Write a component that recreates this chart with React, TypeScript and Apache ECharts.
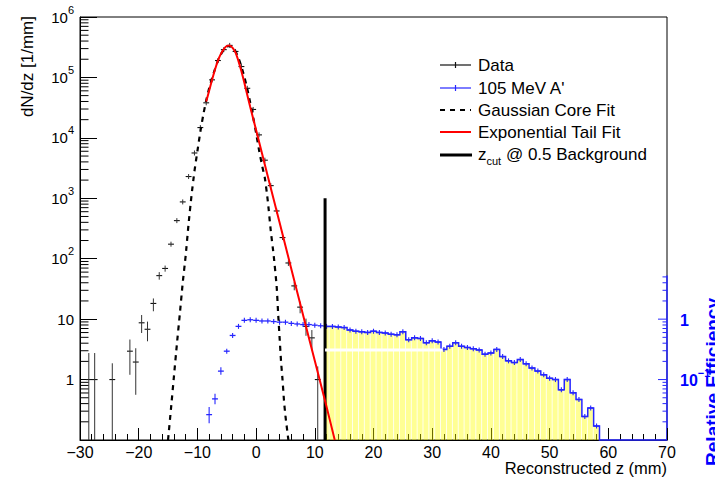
import React, { useEffect, useRef } from "react";
import * as echarts from "echarts";

const FONT = "'Liberation Sans', Arial, Helvetica, sans-serif";

// ---- Data histogram (black crosses) ----
const dataZ = [-28.5, -27.5, -24.5, -21.5, -20.5, -19.5, -18.5, -17.5, -16.5, -15.5,
  -14.5, -13.5, -12.5, -11.5, -10.5, -9.5, -8.5, -7.5, -6.5, -5.5,
  -4.5, -3.5, -2.5, -1.5, -0.5, 0.5, 1.5, 2.5, 3.5, 4.5,
  5.5, 6.5, 7.5, 8.5, 9.5, 10.5];
const dataVal = [1, 1, 1, 2.95, 1.95, 8.7, 6.8, 18.2, 52.5, 69,
  174, 427, 871, 2290, 5620, 14800, 38000, 91200, 190500, 288400,
  338800, 269200, 151400, 66100, 29500, 11200, 4270, 1620, 617, 224,
  85, 35.5, 15.8, 7.6, 4.9, 1];
const dataErrLo: (number | null)[] = [0, 0, 0, 1.2, 0.56, 5.9, 4.3, 13.5, 45, 61,
  161, null, null, null, null, null, null, null, null, null,
  null, null, null, null, null, null, null, null, null, null,
  76, 30, 12.5, 5.3, 3.1, 0];
const dataErrHi: (number | null)[] = [2.75, 2.75, 1.86, 4.6, 3.3, 11.7, 9.1, 22, 60, 77,
  188, null, null, null, null, null, null, null, null, null,
  null, null, null, null, null, null, null, null, null, null,
  94, 41, 19.5, 10.2, 6.6, 1.65];

// ---- Gaussian core fit (dashed) ----
const gaussZ = [-15, -14.5, -14, -13.5, -13, -12.5, -12, -11.5, -11, -10.5,
  -10, -9.5, -9, -8.5, -8, -7.5, -7, -6.5, -6, -5.5,
  -5, -4.5, -4, -3.5, -3, -2.5, -2, -1.5, -1, -0.5,
  0, 0.5, 1, 1.5, 2, 2.5, 3, 3.5, 3.75, 4, 4.25, 4.5, 4.75, 5, 5.5];
const gaussVal = [0.1, 0.33, 1.12, 3.8, 12, 40, 112, 380, 1120, 2820,
  6000, 12600, 24000, 41700, 66000, 98000, 138000, 190000, 240000, 288000,
  324000, 331000, 309000, 269000, 209000, 151000, 102000, 64600, 38000, 21900,
  12000, 6300, 3550, 2140, 890, 290, 112, 35, 12.6, 5.0, 2.0, 1.0, 0.45, 0.25, 0.1];

// ---- Exponential tail fit (red) ----
const tailZ = [-8.5, -8, -7.5, -7, -6.5, -6, -5.5, -5, -4.5, -4, -3.5, -3, -2.5, -2, -1.5, -1,
  0, 2, 4, 6, 8, 10, 12, 13.4];
const tailVal = [39800, 60300, 91200, 135000, 190000, 245000, 295000, 331000, 339000, 309000,
  257000, 186000, 126000, 81300, 51300, 32400, 13500, 2290, 398, 67.6, 11.7, 2.04, 0.355, 0.1];

// ---- 105 MeV A' signal (relative efficiency, right axis) ----
const sigZ = [-8, -7, -6, -5, -4, -3, -2, -1, 0, 1, 2, 3, 4, 5, 6, 7, 8, 9, 10, 11,
  12, 13, 14, 15, 16, 17, 18, 19, 20, 21, 22, 23, 24, 25, 26, 27, 28, 29, 30, 31,
  32, 33, 34, 35, 36, 37, 38, 39, 40, 41, 42, 43, 44, 45, 46, 47, 48, 49, 50, 51,
  52, 53, 54, 55, 56, 57, 58];
const sigEff = [0.0263, 0.0479, 0.138, 0.295, 0.537, 0.759, 0.955, 0.977, 0.955, 0.933,
  0.933, 0.912, 0.891, 0.891, 0.851, 0.832, 0.813, 0.813, 0.794, 0.776,
  0.759, 0.759, 0.741, 0.724, 0.661, 0.631, 0.617, 0.603, 0.631, 0.603,
  0.589, 0.562, 0.550, 0.617, 0.457, 0.490, 0.479, 0.407, 0.437, 0.417,
  0.316, 0.355, 0.407, 0.355, 0.339, 0.324, 0.309, 0.263, 0.275, 0.316,
  0.240, 0.204, 0.191, 0.214, 0.182, 0.155, 0.138, 0.120, 0.105, 0.100,
  0.0676, 0.100, 0.0603, 0.0468, 0.0245, 0.0339, 0.0170];
const sigErrLo = [0.019, 0.039, 0.12];
const sigErrHi = [0.035, 0.058, 0.16];

const zCut = 11.75;
const zCutTop = 1000;
const stripeRange = [11.75, 31.8];
const stripeLevel = 0.31;

const legendLabels = ["Data", "105 MeV A'", "Gaussian Core Fit", "Exponential Tail Fit", "z{sub|cut} @ 0.5 Background"];
const rightAxisLabels: Record<string, string> = { "-1": "10{sup|\u22121}", "0": "1" };

const X_MIN = -30, X_MAX = 70;
const Y_MIN = 0.1, Y_MAX = 1e6;
const R_MIN = 0.01, R_TOP = 5.45;
const BLUE = "#2626ff";

function buildOption(): any {
  const legendY = [65, 88, 110, 132, 155];
  const lx1 = 440, lx2 = 471, lxm = 455.5;
  const graphics: any[] = [];
  graphics.push({ type: "line", shape: { x1: lx1, y1: legendY[0], x2: lx2, y2: legendY[0] }, style: { stroke: "#111", lineWidth: 1.2 } });
  graphics.push({ type: "line", shape: { x1: lxm, y1: legendY[0] - 3, x2: lxm, y2: legendY[0] + 3 }, style: { stroke: "#111", lineWidth: 1.2 } });
  graphics.push({ type: "line", shape: { x1: lx1, y1: legendY[1], x2: lx2, y2: legendY[1] }, style: { stroke: BLUE, lineWidth: 1.2 } });
  graphics.push({ type: "line", shape: { x1: lxm, y1: legendY[1] - 3, x2: lxm, y2: legendY[1] + 3 }, style: { stroke: BLUE, lineWidth: 1.2 } });
  graphics.push({ type: "line", shape: { x1: lx1, y1: legendY[2], x2: lx2, y2: legendY[2] }, style: { stroke: "#000", lineWidth: 2, lineDash: [5, 5] } });
  graphics.push({ type: "line", shape: { x1: lx1, y1: legendY[3], x2: lx2, y2: legendY[3] }, style: { stroke: "#ff0000", lineWidth: 2 } });
  graphics.push({ type: "line", shape: { x1: lx1, y1: legendY[4], x2: lx2 + 1, y2: legendY[4] }, style: { stroke: "#000", lineWidth: 3 } });
  legendLabels.forEach((t, i) => {
    graphics.push({
      type: "text", x: 478, y: legendY[i] - (i === 4 ? 1 : 0),
      style: {
        text: t, fontFamily: FONT, fontSize: 17, fill: "#000", align: "left", verticalAlign: "middle",
        lineHeight: 24,
        rich: { sub: { fontSize: 11, fontFamily: FONT, fill: "#000", verticalAlign: "bottom", lineHeight: 12 } },
      },
    });
  });
  graphics.push({
    type: "text", x: 27, y: 16, rotation: Math.PI / 2,
    style: { text: "dN/dz [1/mm]", fontFamily: FONT, fontSize: 17, fill: "#000", align: "right", verticalAlign: "middle" },
  });
  graphics.push({
    type: "text", x: 667, y: 468,
    style: { text: "Reconstructed z (mm)", fontFamily: FONT, fontSize: 16.5, fill: "#000", align: "right", verticalAlign: "middle" },
  });
  graphics.push({
    type: "text", x: 703, y: 298, rotation: Math.PI / 2,
    style: { text: "Relative Efficiency", fontFamily: FONT, fontSize: 19, fontWeight: "bold", fill: "#0000ff", align: "right", verticalAlign: "top" },
  });

  const series: any[] = [];

  series.push({
    type: "line", xAxisIndex: 0, yAxisIndex: 0, data: [[zCut, Y_MIN], [zCut, zCutTop]],
    symbol: "none", lineStyle: { color: "#000", width: 3 }, silent: true,
  });

  series.push({
    type: "custom", xAxisIndex: 0, yAxisIndex: 0, silent: true,
    data: dataZ.map((z, i) => [z, dataVal[i], dataErrLo[i] ?? dataVal[i], dataErrHi[i] ?? dataVal[i]]),
    renderItem: (_p: any, api: any) => {
      const z = api.value(0), v = api.value(1), lo = api.value(2), hi = api.value(3);
      const c = api.coord([z, v]);
      const l = api.coord([z - 0.5, v]);
      const r = api.coord([z + 0.5, v]);
      const pLo = api.coord([z, Math.max(lo, Y_MIN)]);
      const pHi = api.coord([z, hi]);
      return {
        type: "group",
        children: [
          { type: "line", shape: { x1: l[0], y1: c[1], x2: r[0], y2: c[1] }, style: { stroke: "#111", lineWidth: 1.1 } },
          { type: "line", shape: { x1: c[0], y1: Math.min(pHi[1], c[1] - 2.5), x2: c[0], y2: Math.max(pLo[1], c[1] + 2.5) }, style: { stroke: "#333", lineWidth: 1 } },
        ],
      };
    },
  });

  series.push({
    type: "line", xAxisIndex: 0, yAxisIndex: 0, data: gaussZ.map((z, i) => [z, gaussVal[i]]),
    symbol: "none", smooth: 0.2, lineStyle: { color: "#000", width: 2.2, type: [5, 5] }, silent: true,
  });

  series.push({
    type: "line", xAxisIndex: 0, yAxisIndex: 0, data: tailZ.map((z, i) => [z, tailVal[i]]),
    symbol: "none", smooth: 0.2, lineStyle: { color: "#ff0000", width: 2 }, silent: true,
  });

  series.push({
    type: "custom", xAxisIndex: 0, yAxisIndex: 1, silent: true,
    data: sigZ.map((z, i) => [z, sigEff[i]]).filter((d) => d[0] + 0.5 > zCut),
    renderItem: (_p: any, api: any) => {
      const z = api.value(0), v = api.value(1);
      const x0 = api.coord([Math.max(z - 0.5, zCut), v])[0];
      const x1 = api.coord([z + 0.5, v])[0];
      const top = api.coord([z, v])[1];
      const bot = api.coord([z, R_MIN])[1];
      return { type: "rect", shape: { x: x0, y: top, width: Math.max(x1 - x0 - 0.8, 0.5), height: bot - top }, style: { fill: "rgba(255,255,0,0.42)" } };
    },
  });

  series.push({
    type: "line", xAxisIndex: 0, yAxisIndex: 1, data: [[stripeRange[0], stripeLevel], [stripeRange[1], stripeLevel]],
    symbol: "none", lineStyle: { color: "#ffffff", width: 3 }, silent: true,
  });

  series.push({
    type: "custom", xAxisIndex: 0, yAxisIndex: 1, silent: true, data: [[zCut, 1]],
    renderItem: (_p: any, api: any) => {
      const pts: number[][] = [];
      pts.push(api.coord([zCut, R_MIN]));
      let lastEdge = zCut;
      sigZ.forEach((z, i) => {
        if (z + 0.5 <= zCut) return;
        const v = sigEff[i];
        const left = Math.max(z - 0.5, zCut);
        pts.push(api.coord([left, v]));
        pts.push(api.coord([z + 0.5, v]));
        lastEdge = z + 0.5;
      });
      pts.push(api.coord([lastEdge, R_MIN]));
      pts.push(api.coord([X_MAX, R_MIN]));
      return { type: "polyline", shape: { points: pts }, style: { stroke: BLUE, lineWidth: 1.5, fill: "none" } };
    },
  });

  series.push({
    type: "custom", xAxisIndex: 0, yAxisIndex: 1, silent: true,
    data: sigZ.map((z, i) => [z, sigEff[i], sigErrLo[i] ?? sigEff[i], sigErrHi[i] ?? sigEff[i]]),
    renderItem: (_p: any, api: any) => {
      const z = api.value(0), v = api.value(1), lo = api.value(2), hi = api.value(3);
      const c = api.coord([z, v]);
      const l = api.coord([z - 0.5, v]);
      const r = api.coord([z + 0.5, v]);
      const pLo = api.coord([z, lo]);
      const pHi = api.coord([z, hi]);
      return {
        type: "group",
        children: [
          { type: "line", shape: { x1: l[0], y1: c[1], x2: r[0], y2: c[1] }, style: { stroke: BLUE, lineWidth: 1.3 } },
          { type: "line", shape: { x1: c[0], y1: Math.min(pHi[1], c[1] - 2.5), x2: c[0], y2: Math.max(pLo[1], c[1] + 2.5) }, style: { stroke: BLUE, lineWidth: 1.1 } },
        ],
      };
    },
  });

  series.push({
    type: "custom", xAxisIndex: 0, yAxisIndex: 0, silent: true, data: [[X_MIN, 1]],
    renderItem: (_p: any, api: any) => {
      const children: any[] = [];
      for (let d = -1; d <= 5; d++) {
        for (let m = 2; m <= 9; m++) {
          const p = api.coord([X_MIN, m * Math.pow(10, d)]);
          children.push({ type: "line", shape: { x1: p[0], y1: p[1], x2: p[0] + 8.5, y2: p[1] }, style: { stroke: "#000", lineWidth: 1 } });
        }
      }
      return { type: "group", children };
    },
  });

  series.push({
    type: "custom", xAxisIndex: 0, yAxisIndex: 1, silent: true, data: [[X_MAX, 1]],
    renderItem: (_p: any, api: any) => {
      const children: any[] = [];
      for (let d = -2; d <= 0; d++) {
        for (let m = 1; m <= 9; m++) {
          const v = m * Math.pow(10, d);
          if (v > R_TOP || v <= R_MIN) continue;
          const p = api.coord([X_MAX, v]);
          const len = m === 1 ? 9 : 4.5;
          children.push({ type: "line", shape: { x1: p[0] - len, y1: p[1], x2: p[0], y2: p[1] }, style: { stroke: BLUE, lineWidth: 1 } });
        }
      }
      return { type: "group", children };
    },
  });

  return {
    animation: false,
    backgroundColor: "#ffffff",
    textStyle: { fontFamily: FONT },
    grid: [
      { left: 80, top: 17, width: 587, height: 423, show: true, borderColor: "#000", borderWidth: 1, backgroundColor: "transparent" },
      { left: 666, top: 276, width: 1, height: 164, show: false },
    ],
    xAxis: [
      {
        type: "value", gridIndex: 0, min: X_MIN, max: X_MAX, interval: 10,
        axisLine: { show: true, onZero: false, lineStyle: { color: "#000", width: 1 } },
        axisTick: { show: true, inside: true, length: 12, lineStyle: { color: "#000", width: 1 } },
        minorTick: { show: true, splitNumber: 5, length: 6, lineStyle: { color: "#000", width: 1 } },
        splitLine: { show: false },
        axisLabel: {
          color: "#000", fontSize: 16, fontFamily: FONT, margin: 4,
          formatter: (v: number) => (v < 0 ? "\u2212" + Math.abs(v) : String(v)),
        },
      },
      { type: "value", gridIndex: 1, min: 0, max: 1, show: false },
    ],
    yAxis: [
      {
        type: "log", gridIndex: 0, logBase: 10, min: Y_MIN, max: Y_MAX, splitNumber: 7, position: "left",
        axisLine: { show: true, onZero: false, lineStyle: { color: "#000", width: 1 } },
        axisTick: { show: true, inside: true, length: 17, lineStyle: { color: "#000", width: 1 } },
        splitLine: { show: false },
        axisLabel: {
          color: "#000", fontSize: 15, fontFamily: FONT, margin: 6, lineHeight: 26,
          formatter: (v: number) => {
            const e = Math.round(Math.log10(v));
            if (e < 0) return "";
            if (e === 0) return "1";
            if (e === 1) return "10";
            return "10{sup|" + e + "}";
          },
          rich: { sup: { fontSize: 11, fontFamily: FONT, color: "#000", verticalAlign: "top", lineHeight: 11 } },
        },
      },
      { type: "log", gridIndex: 0, logBase: 10, min: R_MIN, max: 1e5, show: false },
      {
        type: "log", gridIndex: 1, logBase: 10, min: R_MIN, max: R_TOP, position: "right",
        axisLine: { show: true, onZero: false, lineStyle: { color: BLUE, width: 1.5 } },
        axisTick: { show: false },
        splitLine: { show: false },
        axisLabel: {
          color: "#0000ff", fontSize: 16, fontWeight: "bold", fontFamily: FONT, margin: 13, lineHeight: 26,
          formatter: (v: number) => {
            const e = Math.round(Math.log10(v) * 1000) / 1000;
            return rightAxisLabels[String(e)] ?? "";
          },
          rich: { sup: { fontSize: 11, fontWeight: "bold", fontFamily: FONT, color: "#0000ff", verticalAlign: "top", lineHeight: 11 } },
        },
      },
    ],
    series,
    graphic: graphics,
  };
}

export default function App() {
  const ref = useRef<HTMLDivElement>(null);
  useEffect(() => {
    if (!ref.current) return;
    const chart = echarts.init(ref.current, undefined, { renderer: "svg" });
    chart.setOption(buildOption());
    return () => chart.dispose();
  }, []);
  return (
    <div
      ref={ref}
      style={{ position: "fixed", left: 0, top: 0, width: 715, height: 478, background: "#fff" }}
    />
  );
}
